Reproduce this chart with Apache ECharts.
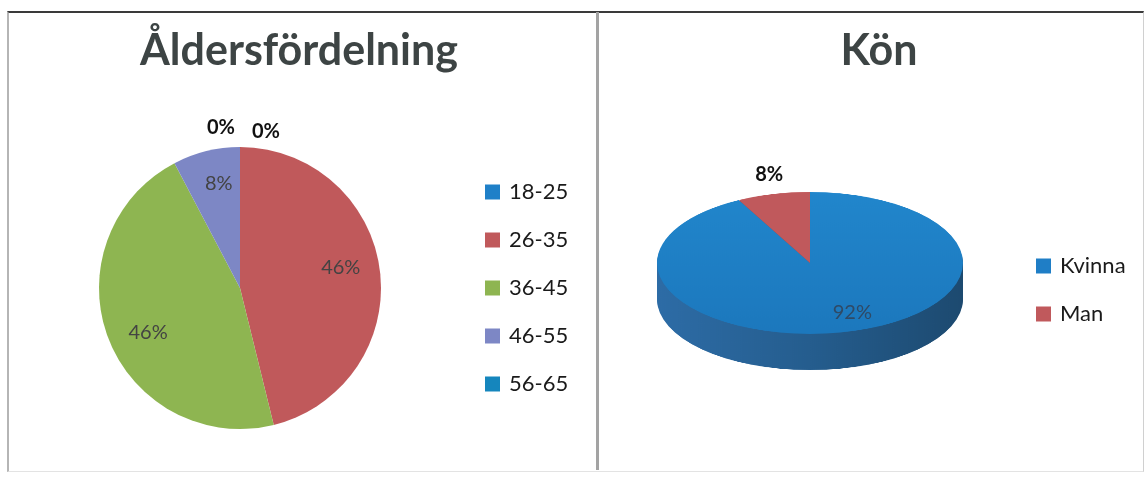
<!DOCTYPE html>
<html><head><meta charset="utf-8">
<script src="https://cdn.jsdelivr.net/npm/echarts@6/dist/echarts.min.js"></script>
<style>
html,body{margin:0;padding:0;background:#fff;width:1147px;height:479px;overflow:hidden;}
#frame{position:absolute;left:7px;top:11px;width:1134px;height:458px;border-top:2px solid #3a3a3a;border-left:2px solid #b5b5b5;border-right:1px solid #d0d0d0;border-bottom:1px solid #e3e3e3;}
#divider{position:absolute;left:596px;top:12px;width:3px;height:458px;background:#a3a3a3;}
#pie3d{position:absolute;left:650px;top:191px;width:320px;height:390px;transform-origin:0 0;transform:scaleY(0.464);}
#main{position:absolute;left:0;top:0;width:1147px;height:479px;}
</style></head><body>
<div id="frame"></div><div id="divider"></div>
<div id="pie3d"></div><div id="main"></div>
<script>
// ---- data ----
const ageTitle = 'Åldersfördelning';
const ageCategories = ['18-25', '26-35', '36-45', '46-55', '56-65'];
const ageCounts = [0, 6, 6, 1, 0];
const genderTitle = 'Kön';
const genderCategories = ['Kvinna', 'Man'];
const genderCounts = [12, 1];

// ---- styles ----
const FONT = 'Lato';
const ageColors = ['#1f80c8', '#c0595b', '#8eb551', '#7d87c5', '#1586bd'];
const genderColors = ['#1f7ec6', '#c0595c'];
const TRANSPARENT = 'rgba(0,0,0,0)';
// label nudges (pixels) per age slice, and per gender slice
const ageLabelOffsets = [[45, 3], [0, -8], [3, 9], [3, -6], [0, -1]];
const genderLabelOffsets = [[30, 0], [0, 0]];

const legendCommon = {
  orient: 'vertical', icon: 'rect', itemWidth: 15, itemHeight: 15, itemGap: 24, padding: 0,
  selectedMode: false,
  textStyle: { fontFamily: FONT, fontSize: 22, color: '#1a1a1a', lineHeight: 24, padding: [0, 0, 0, 4] }
};
const titleStyle = { fontFamily: FONT, fontWeight: 'bold', fontSize: 43, color: '#3d4444' };

const mainChart = echarts.init(document.getElementById('main'));
mainChart.setOption({
  animation: false,
  backgroundColor: 'transparent',
  title: [
    { text: ageTitle, left: 294, top: 25, textAlign: 'center', textStyle: titleStyle },
    { text: genderTitle, left: 874, top: 25, textAlign: 'center', textStyle: titleStyle }
  ],
  legend: [
    Object.assign({}, legendCommon, { data: ageCategories, left: 485, top: 180 }),
    Object.assign({}, legendCommon, {
      data: genderCategories.map((n, i) => ({ name: n, itemStyle: { color: genderColors[i], opacity: 1 } })),
      left: 1036, top: 254
    })
  ],
  series: [
    { // age pie (visual) with outside labels for empty groups
      type: 'pie', center: [240, 288], radius: 141, startAngle: 90, clockwise: true,
      percentPrecision: 0, avoidLabelOverlap: false, silent: true,
      color: ageColors,
      itemStyle: { borderWidth: 0 },
      label: { show: false, formatter: '{d}%', fontFamily: FONT, fontSize: 20, fontWeight: 'bold', color: '#111' },
      labelLine: { show: false, length: 18, length2: 0 },
      data: ageCategories.map((n, i) => ({
        name: n, value: ageCounts[i],
        itemStyle: { color: ageColors[i] },
        label: { show: ageCounts[i] === 0, position: 'outside', offset: ageLabelOffsets[i] }
      }))
    },
    { // age pie inner labels
      type: 'pie', center: [240, 288], radius: [56, 141], startAngle: 90, clockwise: true,
      percentPrecision: 0, silent: true,
      itemStyle: { color: TRANSPARENT, borderWidth: 0 },
      label: { position: 'inside', formatter: '{d}%', fontFamily: FONT, fontSize: 20, color: '#434343' },
      labelLine: { show: false },
      data: ageCategories.map((n, i) => ({
        name: n, value: ageCounts[i],
        label: { show: ageCounts[i] !== 0, offset: ageLabelOffsets[i] }
      }))
    },
    { // gender pie labels (the pie itself is drawn tilted below)
      type: 'pie', center: [810, 263], radius: [17, 80], startAngle: 90, clockwise: true,
      percentPrecision: 0, avoidLabelOverlap: false, silent: true,
      itemStyle: { color: TRANSPARENT, borderWidth: 0 },
      labelLine: { show: false, length: 11, length2: 0 },
      data: genderCategories.map((n, i) => ({
        name: n, value: genderCounts[i],
        label: i === 0
          ? { position: 'inside', offset: genderLabelOffsets[i], formatter: '{d}%', fontFamily: FONT, fontSize: 20, color: '#2f4a66' }
          : { position: 'outside', offset: genderLabelOffsets[i], formatter: '{d}%', fontFamily: FONT, fontSize: 20, fontWeight: 'bold', color: '#111' }
      }))
    }
  ]
});

// ---- tilted (3D-looking) gender pie ----
const pie3d = echarts.init(document.getElementById('pie3d'));
const sideColors = [
  new echarts.graphic.LinearGradient(0, 0, 1, 0, [
    { offset: 0, color: '#2d6ca6' }, { offset: 0.5, color: '#255d8e' }, { offset: 1, color: '#1d4a70' }
  ]),
  '#8a3c3e'
];
const topColors = [
  new echarts.graphic.LinearGradient(0, 0, 0, 1, [
    { offset: 0, color: '#2186cc' }, { offset: 1, color: '#1c78bd' }
  ]),
  genderColors[1]
];
const cx = 160, cy = 155, R = 153, depth = 78, layers = 26;
const pieSeries = [];
function genderData(colors) {
  return genderCategories.map((n, i) => ({ name: n, value: genderCounts[i], itemStyle: { color: colors[i], borderWidth: 0 } }));
}
for (let k = layers; k >= 1; k--) {
  pieSeries.push({
    type: 'pie', center: [cx, cy + depth * k / layers], radius: R, startAngle: 90, clockwise: true,
    silent: true, label: { show: false }, labelLine: { show: false },
    data: genderData(sideColors)
  });
}
pieSeries.push({
  type: 'pie', center: [cx, cy], radius: R, startAngle: 90, clockwise: true,
  silent: true, label: { show: false }, labelLine: { show: false },
  data: genderData(topColors)
});
pie3d.setOption({ animation: false, backgroundColor: 'transparent', series: pieSeries });
</script>
</body></html>
